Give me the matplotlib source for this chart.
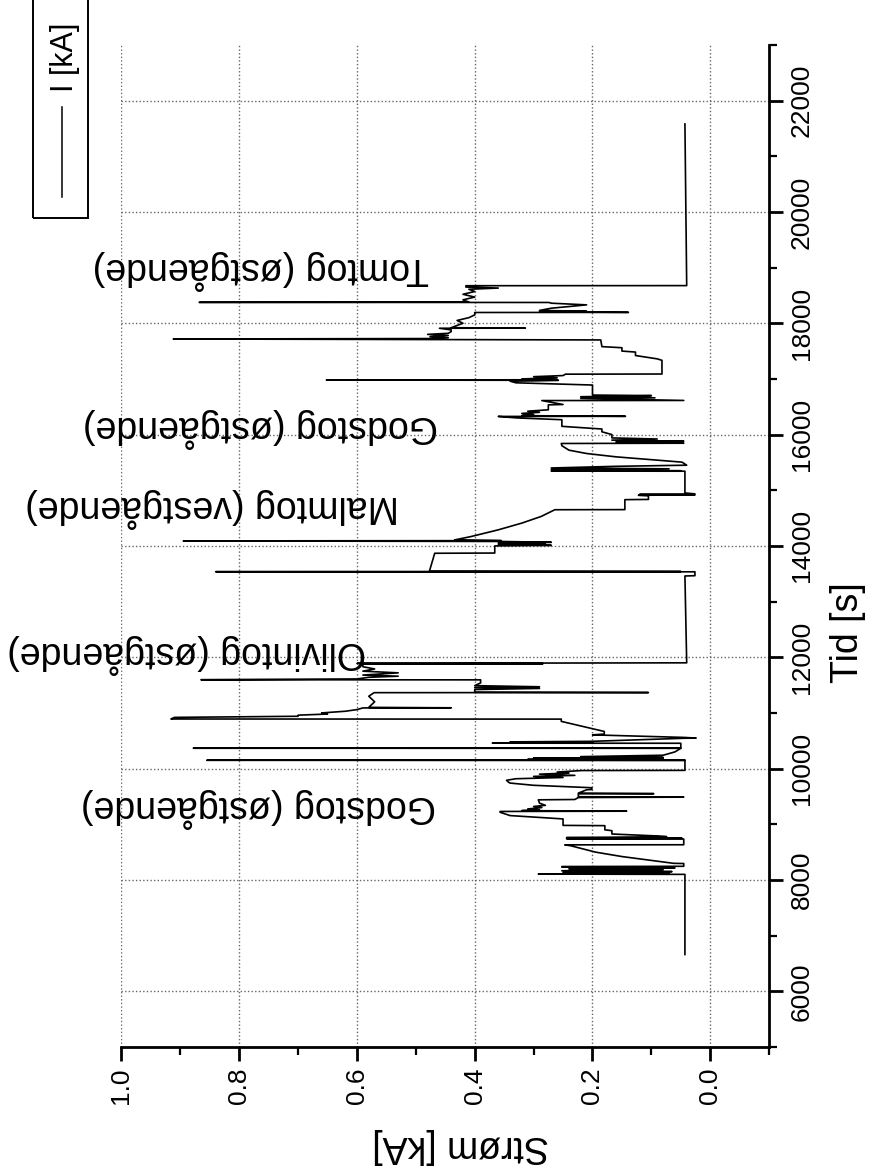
import matplotlib
matplotlib.use("Agg")
import matplotlib.pyplot as plt
from matplotlib.ticker import MultipleLocator, FormatStrFormatter
from matplotlib.patches import Rectangle
from matplotlib.lines import Line2D

plt.rcParams['font.family'] = ['Liberation Sans', 'DejaVu Sans']

# tid [s] og strøm [kA] aflæst fra kurven
tid = [
    6660, 8100, 8105, 8120, 8135, 8150, 8165, 8185, 8200, 8215, 8230, 8241, 8245, 8295,
    8298, 8350, 8420, 8500, 8580, 8614, 8630, 8632, 8734, 8740, 8750, 8760, 8777, 8790,
    8825, 8885, 8900, 8975, 8980, 9035, 9096, 9156, 9216, 9230, 9235, 9245, 9260, 9275,
    9300, 9320, 9340, 9380, 9439, 9445, 9480, 9487, 9495, 9547, 9550, 9560, 9619, 9625,
    9656, 9700, 9740, 9758, 9790, 9818, 9840, 9860, 9878, 9900, 9920, 9938, 9965, 9968,
    10145, 10150, 10155, 10165, 10175, 10190, 10200, 10215, 10240, 10300, 10364, 10366,
    10370, 10455, 10457, 10470, 10480, 10490, 10545, 10548, 10560, 10606, 10620, 10667,
    10848, 10889, 10891, 10920, 10940, 10960, 10980, 11000, 11030, 11060, 11090, 11092,
    11100, 11200, 11300, 11364, 11366, 11372, 11420, 11440, 11455, 11470, 11490, 11540,
    11594, 11596, 11610, 11640, 11660, 11680, 11720, 11750, 11790, 11830, 11880, 11885,
    11890, 11900, 13460, 13465, 13535, 13537, 13540, 13545, 13868, 13872, 14000, 14010,
    14020, 14035, 14050, 14065, 14080, 14090, 14095, 14108, 14169, 14289, 14410, 14530,
    14650, 14652, 14831, 14835, 14900, 14910, 14915, 14925, 14935, 14951, 15342, 15344,
    15350, 15370, 15385, 15400, 15430, 15450, 15505, 15550, 15600, 15660, 15720, 15800,
    15840, 15845, 15870, 15880, 15900, 15920, 15940, 16000, 16050, 16100, 16148, 16267,
    16300, 16326, 16328, 16340, 16360, 16380, 16400, 16420, 16445, 16534, 16540, 16611,
    16613, 16650, 16660, 16680, 16700, 16710, 16770, 16890, 16930, 16960, 16975, 16979,
    16985, 17000, 17020, 17040, 17060, 17085, 17088, 17334, 17360, 17420, 17482, 17500,
    17560, 17580, 17700, 17717, 17725, 17740, 17759, 17780, 17800, 17819, 17850, 17880,
    17910, 17912, 17920, 17960, 18000, 18050, 18100, 18150, 18193, 18195, 18205, 18215,
    18230, 18270, 18330, 18360, 18373, 18375, 18380, 18420, 18470, 18520, 18570, 18610,
    18632, 18650, 18674, 18676, 21580,
]
strom = [
    0.043, 0.043, 0.292, 0.07, 0.25, 0.065, 0.252, 0.08, 0.24, 0.06, 0.252, 0.252, 0.045, 0.045,
    0.062, 0.10, 0.15, 0.195, 0.225, 0.237, 0.247, 0.045, 0.045, 0.244, 0.048, 0.244, 0.074, 0.09,
    0.167, 0.167, 0.179, 0.179, 0.25, 0.25, 0.25, 0.34, 0.357, 0.357, 0.142, 0.32, 0.29, 0.31,
    0.286, 0.30, 0.28, 0.29, 0.292, 0.23, 0.224, 0.045, 0.224, 0.224, 0.096, 0.224, 0.21, 0.201,
    0.201, 0.30, 0.34, 0.343, 0.346, 0.33, 0.25, 0.30, 0.23, 0.29, 0.24, 0.26, 0.218, 0.043,
    0.043, 0.855, 0.043, 0.31, 0.08, 0.30, 0.08, 0.22, 0.08, 0.06, 0.05, 0.878,
    0.05, 0.05, 0.37, 0.2, 0.34, 0.2, 0.044, 0.024, 0.044, 0.2, 0.18, 0.18,
    0.253, 0.253, 0.916, 0.91, 0.70, 0.70, 0.65, 0.66, 0.62, 0.60, 0.59, 0.44,
    0.58, 0.57, 0.58, 0.571, 0.105, 0.40, 0.40, 0.29, 0.40, 0.29, 0.40, 0.39,
    0.39, 0.865, 0.60, 0.58, 0.53, 0.59, 0.53, 0.59, 0.57, 0.59, 0.59, 0.284,
    0.6, 0.04, 0.043, 0.026, 0.026, 0.84, 0.05, 0.477, 0.468, 0.366, 0.366, 0.27,
    0.36, 0.28, 0.36, 0.27, 0.355, 0.895, 0.355, 0.434, 0.406, 0.36, 0.32, 0.287,
    0.264, 0.145, 0.145, 0.105, 0.105, 0.122, 0.026, 0.12, 0.026, 0.043, 0.043, 0.27,
    0.05, 0.27, 0.07, 0.27, 0.16, 0.04, 0.048, 0.10, 0.16, 0.21, 0.24, 0.252,
    0.253, 0.045, 0.16, 0.045, 0.167, 0.09, 0.167, 0.167, 0.184, 0.184, 0.252, 0.252,
    0.33, 0.36, 0.144, 0.32, 0.30, 0.32, 0.29, 0.31, 0.275, 0.275, 0.25, 0.286,
    0.045, 0.22, 0.094, 0.22, 0.10, 0.2, 0.2, 0.2, 0.33, 0.34, 0.258, 0.652,
    0.26, 0.32, 0.26, 0.30, 0.25, 0.246, 0.082, 0.082, 0.09, 0.127, 0.127, 0.15,
    0.15, 0.184, 0.186, 0.912, 0.476, 0.445, 0.476, 0.445, 0.48, 0.445, 0.44, 0.44,
    0.46, 0.314, 0.44, 0.43, 0.42, 0.43, 0.41, 0.40, 0.40, 0.139, 0.29, 0.21,
    0.29, 0.27, 0.21, 0.27, 0.274, 0.868, 0.41, 0.42, 0.40, 0.42, 0.40, 0.41,
    0.36, 0.415, 0.415, 0.04, 0.043,
]

tog = ["Godstog (østgående)", "Olivintog (østgående)", "Malmtog (vestgående)",
       "Godstog (østgående)", "Tomtog (østgående)"]

fig = plt.figure(figsize=(8.74, 11.72), dpi=100)
ax = fig.add_axes([0.139, 0.1067, 0.741, 0.855])

ax.plot(strom, tid, color='black', lw=1.2)

ax.set_xlim(1.0, -0.1)
ax.set_ylim(5000, 23000)
ax.xaxis.set_major_locator(MultipleLocator(0.2))
ax.xaxis.set_minor_locator(MultipleLocator(0.1))
ax.xaxis.set_major_formatter(FormatStrFormatter('%.1f'))
ax.yaxis.set_major_locator(MultipleLocator(2000))
ax.yaxis.set_minor_locator(MultipleLocator(1000))

ax.yaxis.tick_right()
ax.yaxis.set_label_position('right')
ax.spines['left'].set_visible(False)
ax.spines['top'].set_visible(False)
for s in ['bottom', 'right']:
    ax.spines[s].set_linewidth(2.0)

ax.tick_params(which='major', direction='out', length=10, width=2.0, labelsize=19, pad=5)
ax.tick_params(which='minor', direction='out', length=6, width=1.6)
ax.tick_params(axis='x', labelrotation=90)
ax.tick_params(axis='y', labelrotation=90)
for lab in ax.get_yticklabels():
    lab.set_va('center')

ax.set_axisbelow(True)
ax.grid(True, which='major', linestyle=(0, (1, 1.6)), color='0.4', lw=1.0)

ax.set_xlabel("Strøm [kA]", fontsize=27, rotation=180, va='center')
ax.xaxis.set_label_coords(0.523, -0.099)
ax.set_ylabel("Tid [s]", fontsize=27, rotation=90, va='center')
ax.yaxis.set_label_coords(1.122, 0.413)

# tekster ved togene (I-midte, tid-midte)
pos = [(0.768, 9300), (0.889, 12050), (0.846, 14690), (0.764, 16115), (0.764, 18949)]
for navn, (xi, yt) in zip(tog, pos):
    ax.text(xi, yt, navn, fontsize=27, rotation=180, ha='center', va='center',
            rotation_mode='anchor')

# legend (drejet)
fig.patches.append(Rectangle((0.0378, 0.814), 0.0629, 0.2, transform=fig.transFigure,
                             fill=False, edgecolor='black', lw=1.4))
fig.lines.append(Line2D([0.0709, 0.0709], [0.832, 0.909], transform=fig.transFigure,
                        color='black', lw=1.1))
fig.text(0.0744, 0.951, "I [kA]", fontsize=22, rotation=90, ha='center', va='center')

fig.savefig("out.png", dpi=100)
